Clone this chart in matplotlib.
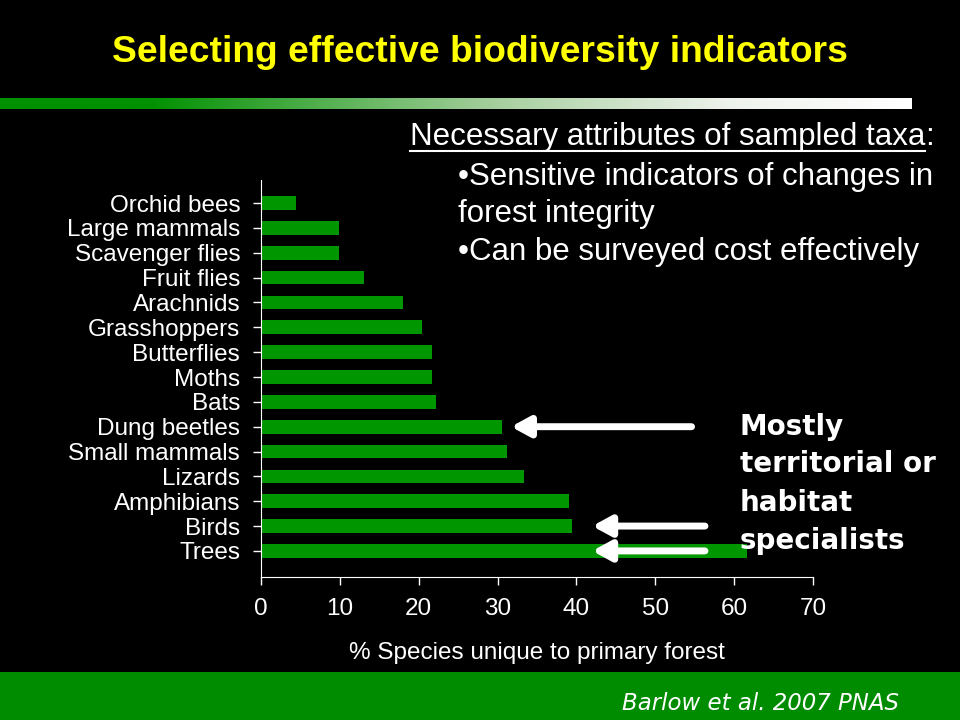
import numpy as np
import matplotlib
matplotlib.use("Agg")
import matplotlib.pyplot as plt
from matplotlib.colors import LinearSegmentedColormap

# taxa listed bottom (Trees) to top (Orchid bees)
taxa = ["Trees", "Birds", "Amphibians", "Lizards", "Small mammals", "Dung beetles",
        "Bats", "Moths", "Butterflies", "Grasshoppers", "Arachnids", "Fruit flies",
        "Scavenger flies", "Large mammals", "Orchid bees"]
unique_pct = [61.6, 39.5, 39.0, 33.3, 31.2, 30.6, 22.2, 21.7, 21.7, 20.4, 18.0,
              13.1, 9.9, 9.9, 4.4]
x_ticks = [0, 10, 20, 30, 40, 50, 60, 70]

plt.rcParams['font.family'] = ['Liberation Sans', 'DejaVu Sans']

fig = plt.figure(figsize=(9.6, 7.2), dpi=100, facecolor="black")

# title
fig.text(0.5, 1 - 52 / 720, "Selecting effective biodiversity indicators",
         color="#FFFF00", fontsize=26.8, fontweight="bold", ha="center", va="center")

# green -> white gradient band under the title
gax = fig.add_axes([0, 1 - 109 / 720, 912 / 960, 11 / 720])
cmap = LinearSegmentedColormap.from_list("g", [(0, "#009000"), (0.16, "#009000"),
                                               (0.55, "#a8d0a0"), (0.8, "#eef2ec"),
                                               (1, "#ffffff")])
gax.imshow(np.linspace(0, 1, 400)[None, :], aspect="auto", cmap=cmap)
gax.axis("off")

# footer band
fax = fig.add_axes([0, 0, 1, 48 / 720])
fax.set_facecolor("#008C00")
fax.set_xticks([])
fax.set_yticks([])
for s in fax.spines.values():
    s.set_visible(False)
fig.text(760 / 960, 1 - 703 / 720, "Barlow et al. 2007 PNAS", color="white",
         fontsize=16.5, style="italic", ha="center", va="center",
         family=["DejaVu Sans"])

# bar chart
ax = fig.add_axes([261 / 960, 1 - 577 / 720, (813 - 261) / 960, (577 - 180) / 720])
ax.set_facecolor("black")
y = np.arange(len(taxa))
ax.barh(y, unique_pct, height=0.55, color="#009600")
ax.set_xlim(0, 70)
ax.set_ylim(-1.05, 14.93)
ax.set_xticks(x_ticks)
ax.set_yticks(y)
ax.set_yticklabels(taxa)
ax.tick_params(colors="white", labelsize=17.5, length=6, width=1)
ax.tick_params(axis="y", pad=9)
ax.tick_params(axis="x", pad=9)
for side in ["top", "right"]:
    ax.spines[side].set_visible(False)
for side in ["left", "bottom"]:
    ax.spines[side].set_color("white")
ax.set_xlabel("% Species unique to primary forest", color="white", fontsize=17.5,
              labelpad=16)

# arrows pointing to highlighted bars
arrows = [(5, 54.6, 31.7), (1, 56.3, 42.0), (0, 56.3, 42.0)]
for row, x0, x1 in arrows:
    ax.annotate("", xy=(x1, row), xytext=(x0, row),
                arrowprops=dict(arrowstyle="-|>,head_length=1.1,head_width=0.6",
                                color="white", lw=5, shrinkA=0, shrinkB=0))

# right-hand text
head = fig.text(410 / 960, 1 - 137 / 720, "Necessary attributes of sampled taxa",
                color="white", fontsize=22.5, ha="left", va="center")
fig.canvas.draw()
bb = head.get_window_extent(fig.canvas.get_renderer())
fig.text(bb.x1 / 960, 1 - 137 / 720, ":", color="white", fontsize=22.5,
         ha="left", va="center")
fig.add_artist(plt.Line2D([bb.x0 / 960, bb.x1 / 960], [(bb.y0 + 1) / 720] * 2,
                          color="white", lw=1.5, transform=fig.transFigure))
for txt, yy, xx in [("\u2022Sensitive indicators of changes in", 177, 458),
                    ("forest integrity", 214, 458),
                    ("\u2022Can be surveyed cost effectively", 252, 458)]:
    fig.text(xx / 960, 1 - yy / 720, txt, color="white", fontsize=22.5,
             ha="left", va="center")

for txt, yy in [("Mostly", 427), ("territorial or", 464), ("habitat", 503),
                ("specialists", 541)]:
    fig.text(740 / 960, 1 - yy / 720, txt, color="white", fontsize=20,
             fontweight="bold", ha="left", va="center", family=["DejaVu Sans"])

fig.savefig("out.png", dpi=100, facecolor="black")
